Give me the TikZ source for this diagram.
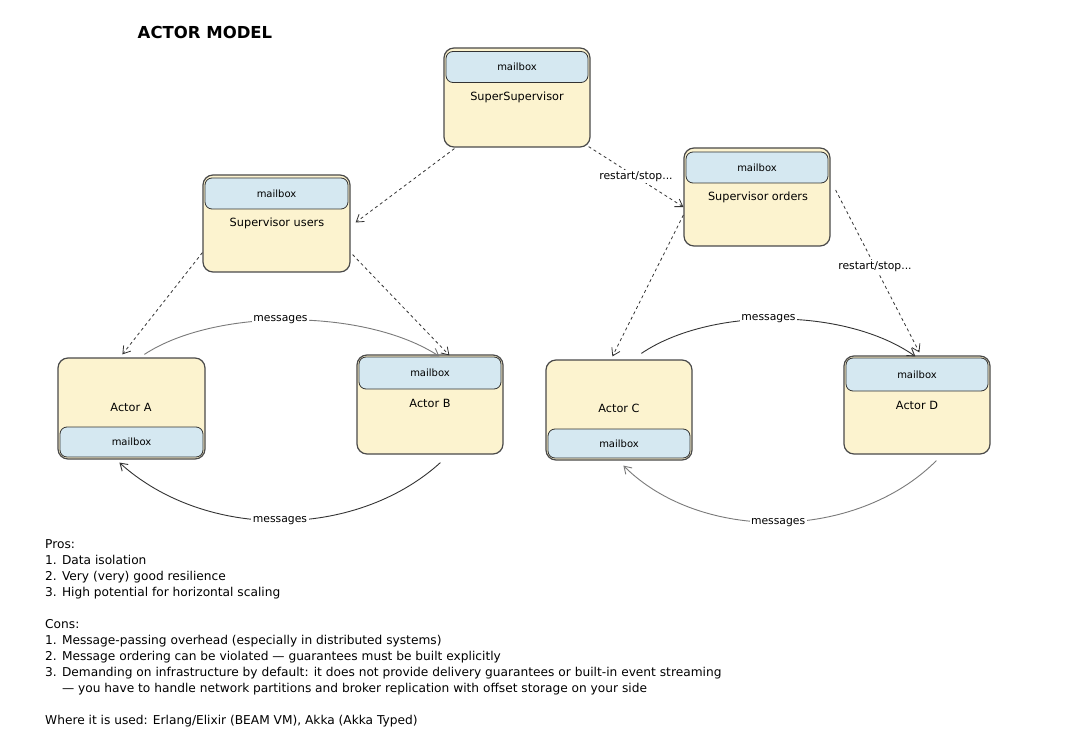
\documentclass[tikz,border=0pt]{standalone}
\usepackage{fontspec}
\setmainfont{DejaVu Sans}
\usetikzlibrary{arrows.meta,calc}
\definecolor{boxfill}{HTML}{FCF3CF}
\definecolor{mailfill}{HTML}{D5E8F1}
\definecolor{edge}{HTML}{4A4A4A}
\definecolor{darkline}{HTML}{333333}
\definecolor{grayline}{HTML}{7A7A7A}
\begin{document}
\begin{tikzpicture}[x=1pt,y=-1pt,
  actorbox/.style={draw=edge,line width=1.2pt,fill=boxfill,rounded corners=10pt,inner sep=0pt},
  mailboxnode/.style={draw=darkline,line width=0.8pt,fill=mailfill,rounded corners=7pt,inner sep=0pt,font=\fontsize{10}{12}\selectfont},
  boxlabel/.style={font=\fontsize{11.3}{13}\selectfont},
  sup/.style={draw=darkline,line width=0.8pt,dash pattern=on 3pt off 3pt,-{Straight Barb[length=7pt,width=9pt]}},
  msg/.style={line width=0.9pt,-{Straight Barb[length=7pt,width=9pt]}},
  lbl/.style={fill=white,text=black,inner sep=1.5pt,font=\fontsize{10.8}{13}\selectfont}
]
\useasboundingbox (0,0) rectangle (1074,754);
\fill[white] (0,0) rectangle (1074,754);

\node[font=\bfseries\fontsize{16.5}{18}\selectfont] (title) at (205,32) {ACTOR MODEL};

% boxes
\node[actorbox,minimum width=146pt,minimum height=99pt] (ss) at (517,97.5) {};
\node[mailboxnode,minimum width=142pt,minimum height=31pt] (ssm) at (517,67) {mailbox};
\node[boxlabel] (ssl) at (517,97) {SuperSupervisor};

\node[actorbox,minimum width=147pt,minimum height=97pt] (su) at (276.5,223.5) {};
\node[mailboxnode,minimum width=143pt,minimum height=31pt] (sum) at (276.5,193.5) {mailbox};
\node[boxlabel] (sul) at (277,223) {Supervisor users};

\node[actorbox,minimum width=146pt,minimum height=98pt] (so) at (757,197) {};
\node[mailboxnode,minimum width=142pt,minimum height=31pt] (som) at (757,167.5) {mailbox};
\node[boxlabel] (sol) at (758,197) {Supervisor orders};

\node[actorbox,minimum width=147pt,minimum height=101pt] (aa) at (131.5,408.5) {};
\node[mailboxnode,minimum width=143pt,minimum height=30pt] (aam) at (131.5,442) {mailbox};
\node[boxlabel] (aal) at (131,407) {Actor A};

\node[actorbox,minimum width=146pt,minimum height=99pt] (ab) at (430,404.5) {};
\node[mailboxnode,minimum width=142pt,minimum height=32pt] (abm) at (430,373) {mailbox};
\node[boxlabel] (abl) at (430,403) {Actor B};

\node[actorbox,minimum width=146pt,minimum height=100pt] (ac) at (619,410) {};
\node[mailboxnode,minimum width=142pt,minimum height=29pt] (acm) at (619,443.5) {mailbox};
\node[boxlabel] (acl) at (619,408) {Actor C};

\node[actorbox,minimum width=146pt,minimum height=98pt] (ad) at (917,405) {};
\node[mailboxnode,minimum width=142pt,minimum height=33pt] (adm) at (917,374.5) {mailbox};
\node[boxlabel] (adl) at (917,405) {Actor D};

% supervision arrows
\draw[sup] ($(ss.south west)+(11,1)$) -- ($(su.east)+(5,-1)$);
\draw[sup] ($(ss.south east)+(-2,-1)$) -- node[lbl,pos=0.5] (rs1) {restart/stop...} ($(so.west)+(0,10)$);
\draw[sup] ($(su.south west)+(0,-20)$) -- ($(aa.north west)+(65,-3)$);
\draw[sup] ($(su.south east)+(2,-18)$) -- ($(ab.north west)+(93,1)$);
\draw[sup] ($(so.west)+(0,18)$) -- ($(ac.north west)+(67,-3)$);
\draw[sup] ($(so.east)+(5,-7)$) -- node[lbl,pos=0.47] (rs2) {restart/stop...} ($(ad.north west)+(76,-3)$);

% messages
\draw[msg,grayline] ($(aa.north west)+(87,-3)$) .. controls (215,308) and (365,308) .. node[lbl,pos=0.47] (m1) {messages} ($(ab.north west)+(83,2)$);
\draw[msg,darkline] ($(ab.south west)+(84,8)$) .. controls (355,540) and (205,540) .. node[lbl,pos=0.5] (m2) {messages} ($(aa.south west)+(62,3)$);
\draw[msg,darkline] ($(ac.north west)+(96,-6)$) .. controls (710,307) and (845,307) .. node[lbl,pos=0.47] (m3) {messages} ($(ad.north west)+(72,1)$);
\draw[msg,grayline] ($(ad.south west)+(93,6)$) .. controls (855,542) and (700,542) .. node[lbl,pos=0.5] (m4) {messages} ($(ac.south west)+(78,5)$);

% notes
\node[anchor=north west,align=left,inner sep=0pt,font=\fontsize{12.2}{16}\selectfont] (notes) at (45,539) {%
Pros:\\
1. Data isolation\\
2. Very (very) good resilience\\
3. High potential for horizontal scaling\\[16pt]
Cons:\\
1. Message-passing overhead (especially in distributed systems)\\
2. Message ordering can be violated — guarantees must be built explicitly\\
3. Demanding on infrastructure by default: it does not provide delivery guarantees or built-in event streaming\\
\hphantom{3. }— you have to handle network partitions and broker replication with offset storage on your side\\[16pt]
Where it is used: Erlang/Elixir (BEAM VM), Akka (Akka Typed)};
\end{tikzpicture}
\end{document}
